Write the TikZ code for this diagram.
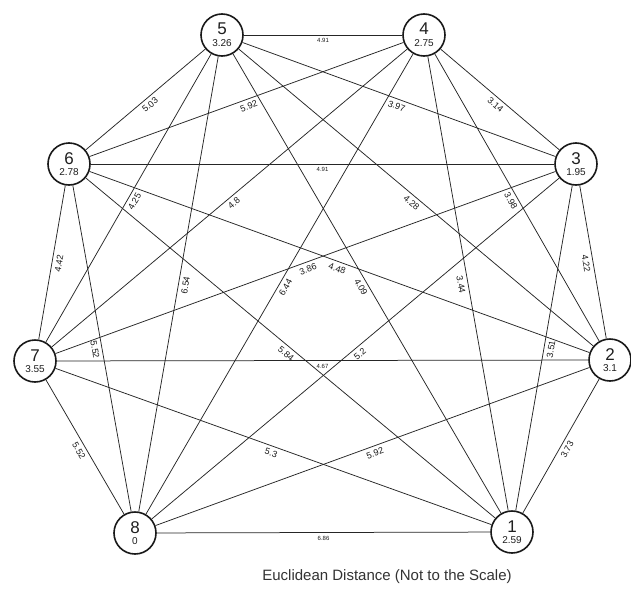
\documentclass[tikz,border=0pt]{standalone}
\usepackage{fontspec}
\setmainfont{Liberation Sans}
\newcommand\mkvertex[4]{%
  \node[vtx] (#1) at (#2) {{\fontsize{17}{17}\selectfont #3}\\#4};}
\begin{document}
\begin{tikzpicture}[x=1pt,y=-1pt,
  vtx/.style={circle,draw=black!90,line width=1.6pt,fill=white,minimum size=42pt,inner sep=0pt,
    align=center,font=\fontsize{10}{11.6}\selectfont,text=black!88},
  edge/.style={draw=black!85,line width=0.75pt},
  elab/.style={sloped,below=2.5pt,inner sep=1pt,font=\fontsize{9}{9}\selectfont,text=black!90},
  slab/.style={below=2pt,inner sep=1pt,font=\fontsize{6}{6}\selectfont,text=black!90}]
\useasboundingbox[fill=white] (0,0) rectangle (631,589);
\mkvertex{n1}{512,532}{1}{2.59}
\mkvertex{n2}{610,360}{2}{3.1}
\mkvertex{n3}{576,164}{3}{1.95}
\mkvertex{n4}{424,35}{4}{2.75}
\mkvertex{n5}{222,35}{5}{3.26}
\mkvertex{n6}{69,164}{6}{2.78}
\mkvertex{n7}{35,361}{7}{3.55}
\mkvertex{n8}{135,533}{8}{0}
% horizontal edges
\draw[edge] (n5) -- node[slab]{4.91} (n4);
\draw[edge] (n6) -- node[slab]{4.91} (n3);
\draw[edge] (n7) -- node[slab]{4.67} (n2);
\draw[edge] (n8) -- node[slab]{6.86} (n1);
% other edges
\draw[edge] (n5) -- node[elab]{5.03} (n6);
\draw[edge] (n4) -- node[elab]{3.14} (n3);
\draw[edge] (n3) -- node[elab]{4.22} (n2);
\draw[edge] (n2) -- node[elab]{3.73} (n1);
\draw[edge] (n7) -- node[elab]{5.52} (n8);
\draw[edge] (n6) -- node[elab]{4.42} (n7);
\draw[edge] (n6) -- node[elab]{5.52} (n8);
\draw[edge] (n5) -- node[elab]{6.54} (n8);
\draw[edge] (n5) -- node[elab]{4.25} (n7);
\draw[edge] (n4) -- node[elab]{4.8} (n7);
\draw[edge] (n4) -- node[elab]{5.92} (n6);
\draw[edge] (n5) -- node[elab]{3.97} (n3);
\draw[edge] (n4) -- node[elab]{6.44} (n8);
\draw[edge] (n7) -- node[elab]{3.86} (n3);
\draw[edge] (n6) -- node[elab]{4.48} (n2);
\draw[edge] (n5) -- node[elab]{4.09} (n1);
\draw[edge] (n4) -- node[elab]{3.98} (n2);
\draw[edge] (n6) -- node[elab]{5.84} (n1);
\draw[edge] (n8) -- node[elab]{5.2} (n3);
\draw[edge] (n8) -- node[elab]{5.92} (n2);
\draw[edge] (n7) -- node[elab]{5.3} (n1);
\draw[edge] (n4) -- node[elab]{3.44} (n1);
\draw[edge] (n3) -- node[elab]{3.51} (n1);
\draw[edge] (n5) -- node[elab]{4.28} (n2);
\node[font=\fontsize{15}{15}\selectfont,text=black!80] (cap) at (387,577) {Euclidean Distance (Not to the Scale)};
\end{tikzpicture}
\end{document}
